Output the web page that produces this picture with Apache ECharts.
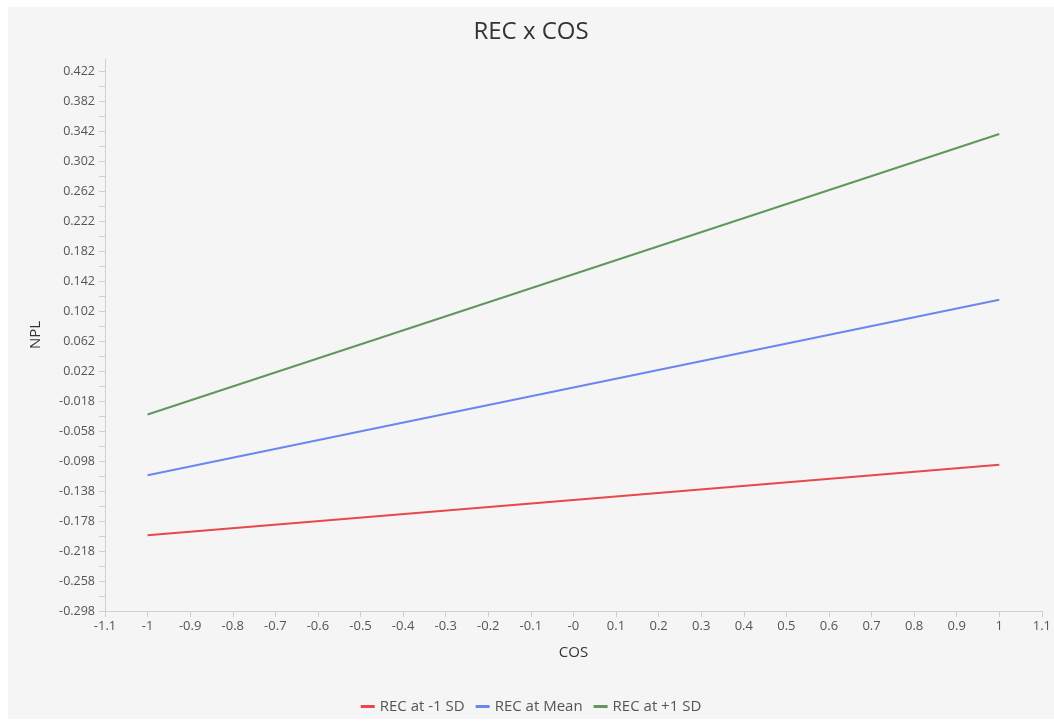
<!DOCTYPE html>
<html>
<head>
<meta charset="utf-8">
<title>REC x COS</title>
<script src="https://cdn.jsdelivr.net/npm/echarts@6/dist/echarts.min.js"></script>
<style>
  html, body { margin: 0; padding: 0; background: #ffffff; }
  #chart { position: absolute; left: 8px; top: 7px; width: 1046px; height: 712px; }
</style>
</head>
<body>
<div id="chart"></div>
<script>
// Simple slopes of NPL on COS at three levels of REC
const cosValues = [-1, 1];
const recMinus1SD = [-0.197, -0.103];
const recMean = [-0.117, 0.117];
const recPlus1SD = [-0.036, 0.338];

const seriesNames = ['REC at -1 SD', 'REC at Mean', 'REC at +1 SD'];
const seriesColors = ['#e8484b', '#6b86ee', '#62965f'];

// Axis ranges and tick spacing
const xMin = -1.1, xMax = 1.1, xStep = 0.1;
const yMin = -0.298, yMax = 0.438, yStep = 0.04;

const fontFamily = '"Open Sans", "Noto Sans", sans-serif';
const labelColor = '#555555';
const axisColor = '#cfcfcf';

function pairs(ys) {
  return cosValues.map((x, i) => [x, ys[i]]);
}

function xLabel(v) {
  const r = Math.round(v * 10) / 10;
  if (Math.abs(r) < 1e-9) return '-0';
  return String(r);
}

function yLabel(v) {
  // only label values on the 0.04 grid that starts at yMin
  const k = (v - yMin) / yStep;
  if (Math.abs(k - Math.round(k)) > 1e-6) return '';
  return (Math.round(v * 1000) / 1000).toFixed(3);
}

const chart = echarts.init(document.getElementById('chart'));
chart.setOption({
  backgroundColor: '#f5f5f5',
  animation: false,
  textStyle: { fontFamily: fontFamily },
  title: {
    text: 'REC x COS',
    left: 'center',
    top: 8,
    textStyle: { fontSize: 24, fontWeight: 'normal', color: '#333333', fontFamily: fontFamily }
  },
  legend: {
    bottom: 0,
    left: 'center',
    itemWidth: 14,
    itemHeight: 3,
    itemGap: 11,
    icon: 'rect',
    textStyle: { fontSize: 15, color: '#555555', fontFamily: fontFamily },
    data: seriesNames
  },
  grid: { left: 97, right: 10, top: 52, bottom: 108, containLabel: false },
  xAxis: {
    type: 'value',
    min: xMin,
    max: xMax,
    interval: xStep,
    name: 'COS',
    nameLocation: 'middle',
    nameGap: 34,
    nameTextStyle: { fontSize: 15, color: '#333333', fontFamily: fontFamily },
    axisLine: { show: true, onZero: false, lineStyle: { color: axisColor, width: 1 } },
    axisTick: { show: true, length: 6, lineStyle: { color: axisColor } },
    axisLabel: { color: labelColor, fontSize: 13, margin: 9, formatter: xLabel, showMinLabel: true, showMaxLabel: true },
    splitLine: { show: false }
  },
  yAxis: {
    type: 'value',
    min: yMin,
    max: yMax,
    interval: yStep / 2,
    name: 'NPL',
    nameLocation: 'middle',
    nameGap: 62,
    nameTextStyle: { fontSize: 15, color: '#333333', fontFamily: fontFamily },
    axisLine: { show: true, onZero: false, lineStyle: { color: axisColor, width: 1 } },
    axisTick: { show: true, length: 6, lineStyle: { color: axisColor } },
    axisLabel: { color: labelColor, fontSize: 12.5, margin: 10, formatter: yLabel, showMaxLabel: false },
    splitLine: { show: false }
  },
  series: [
    { name: seriesNames[0], type: 'line', data: pairs(recMinus1SD), symbol: 'none', lineStyle: { width: 2, color: seriesColors[0] }, itemStyle: { color: seriesColors[0] } },
    { name: seriesNames[1], type: 'line', data: pairs(recMean), symbol: 'none', lineStyle: { width: 2, color: seriesColors[1] }, itemStyle: { color: seriesColors[1] } },
    { name: seriesNames[2], type: 'line', data: pairs(recPlus1SD), symbol: 'none', lineStyle: { width: 2, color: seriesColors[2] }, itemStyle: { color: seriesColors[2] } }
  ]
});
</script>
</body>
</html>
